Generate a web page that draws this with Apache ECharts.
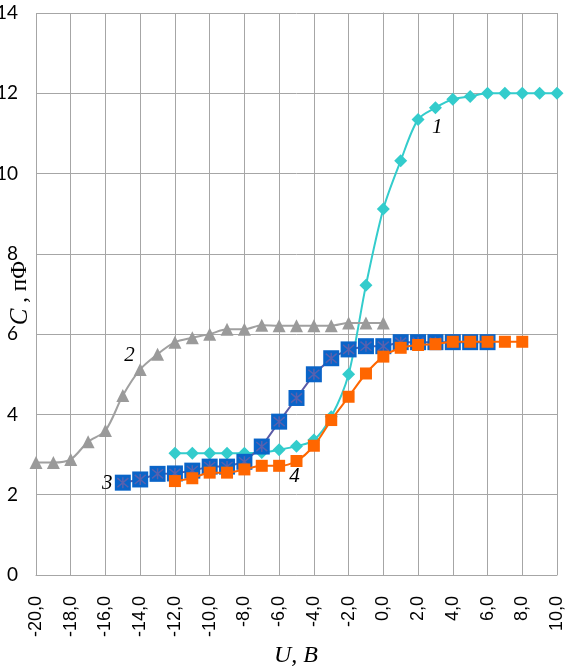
<!DOCTYPE html>
<html>
<head>
<meta charset="utf-8">
<script src="https://cdn.jsdelivr.net/npm/echarts@6/dist/echarts.min.js"></script>
<style>html,body{margin:0;padding:0;background:#fff}#c{width:568px;height:669px}</style>
</head>
<body>
<div id="c"></div>
<script>
// Curve 1 (cyan diamonds)
const x1 = [-12,-11,-10,-9,-8,-7,-6,-5,-4,-3,-2,-1,0,1,2,3,4,5,6,7,8,9,10];
const y1 = [3.03,3.03,3.03,3.03,3.03,3.05,3.12,3.21,3.36,3.94,5.0,7.22,9.12,10.32,11.35,11.64,11.85,11.92,12.0,12.0,12.0,12.0,12.0];
// Curve 2 (gray triangles)
const x2 = [-20,-19,-18,-17,-16,-15,-14,-13,-12,-11,-10,-9,-8,-7,-6,-5,-4,-3,-2,-1,0];
const y2 = [2.80,2.80,2.88,3.32,3.60,4.47,5.12,5.50,5.80,5.91,6.0,6.12,6.12,6.22,6.21,6.21,6.21,6.21,6.28,6.28,6.28];
// Curve 3 (blue squares with asterisks)
const x3 = [-15,-14,-13,-12,-11,-10,-9,-8,-7,-6,-5,-4,-3,-2,-1,0,1,2,3,4,5,6];
const y3 = [2.30,2.38,2.52,2.53,2.60,2.70,2.70,2.82,3.20,3.82,4.41,5.0,5.40,5.62,5.70,5.70,5.80,5.80,5.80,5.80,5.80,5.80];
// Curve 4 (orange squares)
const x4 = [-12,-11,-10,-9,-8,-7,-6,-5,-4,-3,-2,-1,0,1,2,3,4,5,6,7,8];
const y4 = [2.34,2.41,2.55,2.55,2.63,2.72,2.72,2.84,3.22,3.86,4.44,5.02,5.44,5.66,5.73,5.75,5.81,5.81,5.81,5.81,5.81];
// Curve labels: [text, x, y]
const curveLabels = [['1',3.1,11.14],['2',-14.62,5.46],['3',-15.9,2.28],['4',-5.12,2.45]];
// Axis settings
const xMin = -20, xMax = 10, xStep = 2;
const yMin = 0, yMax = 14, yStep = 2;
const xTitle = 'U, B';
const yTitleItalic = 'C';
const yTitleRest = ' , пФ';

const pairs = (xs, ys) => xs.map((x, i) => [x, ys[i]]);
const fmtX = v => v.toFixed(1).replace('.', ',');
const gridColor = '#a6a6a6';

function labelPoint(idx) {
  const l = curveLabels[idx];
  return {
    silent: true,
    symbol: 'circle', symbolSize: 0,
    label: { show: true, formatter: l[0], position: 'inside',
      fontFamily: 'Liberation Serif', fontStyle: 'italic', fontSize: 21, color: '#000' },
    data: [{ coord: [l[1], l[2]] }]
  };
}

const chart = echarts.init(document.getElementById('c'), null, { renderer: 'canvas' });
chart.setOption({
  animation: false,
  backgroundColor: '#fff',
  grid: { left: 36, right: 11, top: 13, bottom: 94, containLabel: false, outerBoundsMode: 'none' },
  xAxis: {
    type: 'value', min: xMin, max: xMax, interval: xStep,
    axisLine: { show: true, onZero: false, lineStyle: { color: gridColor, width: 1 } },
    axisTick: { show: false },
    splitLine: { show: true, lineStyle: { color: gridColor, width: 1 } },
    axisLabel: { rotate: 90, formatter: fmtX, margin: 21, fontFamily: 'Liberation Sans', fontSize: 18, color: '#000' }
  },
  yAxis: {
    type: 'value', min: yMin, max: yMax, interval: yStep,
    axisLine: { show: true, onZero: true, lineStyle: { color: gridColor, width: 1 } },
    axisTick: { show: false },
    splitLine: { show: true, lineStyle: { color: gridColor, width: 1 } },
    axisLabel: { margin: 18, fontFamily: 'Lato', fontSize: 19, color: '#000', padding: [6, 0, 0, 0] }
  },
  graphic: [
    { type: 'text', x: 20, y: 293, rotation: Math.PI / 2,
      style: { text: '{i|' + yTitleItalic + '}{n|' + yTitleRest + '}', align: 'center', verticalAlign: 'middle',
        rich: {
          i: { fontFamily: 'Liberation Serif', fontStyle: 'italic', fontSize: 25, fill: '#000' },
          n: { fontFamily: 'Liberation Serif', fontSize: 23, fill: '#000' }
        } } },
    { type: 'text', x: 296, y: 656,
      style: { text: xTitle, align: 'center', verticalAlign: 'middle', fontFamily: 'Liberation Serif', fontStyle: 'italic', fontSize: 24, fill: '#000' } }
  ],
  series: [
    { type: 'line', data: pairs(x1, y1), smooth: 0.3, symbol: 'diamond', symbolSize: 13,
      itemStyle: { color: '#33cccc' }, lineStyle: { color: '#33cccc', width: 2 }, z: 2,
      markPoint: labelPoint(0) },
    { type: 'line', data: pairs(x2, y2), smooth: 0.3, symbol: 'triangle', symbolSize: 13,
      itemStyle: { color: '#9a9a9a' }, lineStyle: { color: '#a0a0a0', width: 2 }, z: 3,
      markPoint: labelPoint(1) },
    { type: 'line', data: pairs(x3, y3), smooth: false, symbol: 'rect', symbolSize: 16,
      itemStyle: { color: '#0a64c8' }, lineStyle: { color: '#5a5aa6', width: 2 }, z: 4,
      markPoint: labelPoint(2) },
    { type: 'scatter', data: pairs(x3, y3), symbol: 'path://M0,0L10,10M10,0L0,10M5,-1L5,11', symbolSize: 11,
      itemStyle: { color: 'transparent', borderColor: '#6b60a8', borderWidth: 1.5 }, z: 5, silent: true },
    { type: 'line', data: pairs(x4, y4), smooth: 0.3, symbol: 'rect', symbolSize: 12,
      itemStyle: { color: '#ff6600' }, lineStyle: { color: '#ff6600', width: 2 }, z: 6,
      markPoint: labelPoint(3) }
  ]
});
</script>
</body>
</html>
